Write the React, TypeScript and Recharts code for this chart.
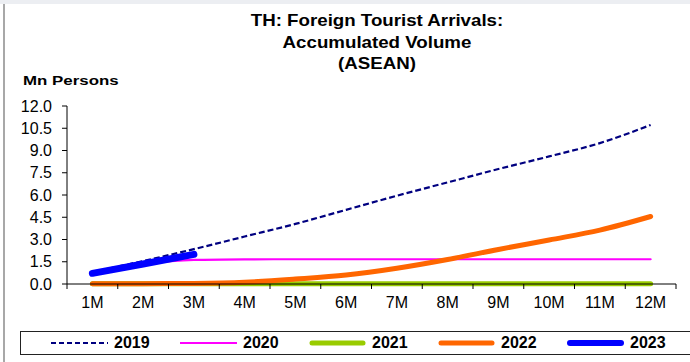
import { Legend, Line, LineChart, XAxis, YAxis } from 'recharts';

const months = ['1M', '2M', '3M', '4M', '5M', '6M', '7M', '8M', '9M', '10M', '11M', '12M'];
const y2019 = [0.8, 1.55, 2.35, 3.2, 4.05, 5.0, 5.95, 6.85, 7.75, 8.6, 9.5, 10.72];
const y2020 = [0.76, 1.33, 1.62, 1.66, 1.67, 1.67, 1.67, 1.67, 1.67, 1.67, 1.67, 1.67];
const y2021 = [0.01, 0.01, 0.01, 0.01, 0.01, 0.01, 0.01, 0.01, 0.01, 0.02, 0.02, 0.02];
const y2022 = [0.01, 0.02, 0.04, 0.12, 0.33, 0.6, 1.06, 1.65, 2.33, 2.97, 3.63, 4.55];
const y2023 = [0.72, 1.35, 2.0];
const yTicks = [0, 1.5, 3, 4.5, 6, 7.5, 9, 10.5, 12];

const seriesInfo = [
  { key: 'y2019', name: '2019', color: '#000080', width: 2.2, dash: '6 3' },
  { key: 'y2020', name: '2020', color: '#FF00FF', width: 2.2, dash: undefined },
  { key: 'y2021', name: '2021', color: '#99CC00', width: 5, dash: undefined },
  { key: 'y2022', name: '2022', color: '#FF6600', width: 5, dash: undefined },
  { key: 'y2023', name: '2023', color: '#0000FF', width: 7, dash: undefined },
];

const data = months.map((m, i) => ({
  x: i + 1,
  label: m,
  y2019: y2019[i],
  y2020: y2020[i],
  y2021: y2021[i],
  y2022: y2022[i],
  y2023: i < y2023.length ? y2023[i] : null,
}));

// boundary tick marks sit between the month labels
const xTicks: number[] = [];
for (let i = 0; i <= months.length * 2; i++) xTicks.push(0.5 + i * 0.5);

const FONT = '"Liberation Sans", Arial, sans-serif';

function MonthTick(props: any) {
  const { x, y, payload } = props;
  const v = payload.value as number;
  if (Number.isInteger(v)) {
    return (
      <text x={x} y={y + 18} dy="0.355em" textAnchor="middle" fontSize={16} fontFamily={FONT} fill="#000">
        {months[v - 1]}
      </text>
    );
  }
  return <line x1={x} x2={x} y1={y} y2={y + 5} stroke="#000" strokeWidth={1} />;
}

function LegendBox() {
  return (
    <div
      style={{
        boxSizing: 'border-box',
        width: '100%',
        height: '100%',
        border: '1px solid #222',
        display: 'flex',
        alignItems: 'center',
        paddingLeft: 30,
        fontFamily: FONT,
      }}
    >
      {seriesInfo.map((s) => (
        <div key={s.key} style={{ display: 'flex', alignItems: 'center', width: 129 }}>
          <svg width={57} height={10}>
            <line
              x1={s.width > 3 ? 3 : 0}
              x2={s.width > 3 ? 54 : 57}
              y1={5}
              y2={5}
              stroke={s.color}
              strokeWidth={s.dash ? 2 : Math.min(s.width, 6)}
              strokeDasharray={s.dash ? '5 3' : undefined}
              strokeLinecap={s.width > 3 ? 'round' : 'butt'}
            />
          </svg>
          <span style={{ marginLeft: 6, fontWeight: 'bold', fontSize: 16, color: '#000' }}>{s.name}</span>
        </div>
      ))}
    </div>
  );
}

export default function App() {
  return (
    <div style={{ position: 'absolute', left: 0, top: 0, width: 690, height: 362, background: '#fff', overflow: 'hidden' }}>
      <div style={{ position: 'absolute', left: 0, top: 0, width: 690, height: 4, background: '#eceef2' }} />
      <div style={{ position: 'absolute', left: 3, top: 4, width: 2, height: 358, background: '#a8a8a8' }} />
      <div
        style={{
          position: 'absolute',
          left: 177,
          top: 10,
          width: 400,
          textAlign: 'center',
          fontFamily: FONT,
          fontWeight: 'bold',
          fontSize: 17,
          lineHeight: '21.5px',
          transform: 'scaleX(1.1)',
          transformOrigin: 'center',
        }}
      >
        TH: Foreign Tourist Arrivals:
        <br />
        Accumulated Volume
        <br />
        (ASEAN)
      </div>
      <div
        style={{
          position: 'absolute',
          left: 23,
          top: 73,
          fontFamily: FONT,
          fontWeight: 'bold',
          fontSize: 13.5,
          whiteSpace: 'nowrap',
          transform: 'scaleX(1.25)',
          transformOrigin: 'left',
        }}
      >
        Mn Persons
      </div>
      <LineChart width={690} height={362} data={data} margin={{ top: 106, right: 14, bottom: 48, left: 0 }}>
        <XAxis
          dataKey="x"
          type="number"
          domain={[0.5, 12.5]}
          ticks={xTicks}
          interval={0}
          tick={<MonthTick />}
          tickLine={false}
          tickSize={0}
          tickMargin={0}
          height={30}
          axisLine={{ stroke: '#000', strokeWidth: 1 }}
        />
        <YAxis
          type="number"
          domain={[0, 12]}
          ticks={yTicks}
          interval={0}
          width={67}
          tickSize={5}
          tickMargin={10}
          tickFormatter={(v: number) => v.toFixed(1)}
          tick={{ fill: '#000', fontSize: 16, fontFamily: FONT }}
          tickLine={{ stroke: '#000' }}
          axisLine={{ stroke: '#000', strokeWidth: 1 }}
        />
        <Legend
          layout="horizontal"
          verticalAlign="middle"
          align="center"
          content={<LegendBox />}
          wrapperStyle={{ left: 20, top: 331, width: 680, height: 24 }}
        />
        {seriesInfo.map((s) => (
          <Line
            key={s.key}
            dataKey={s.key}
            name={s.name}
            type="monotone"
            stroke={s.color}
            strokeWidth={s.width}
            strokeDasharray={s.dash}
            strokeLinecap={s.dash ? 'butt' : 'round'}
            dot={false}
            activeDot={false}
            connectNulls={false}
            isAnimationActive={false}
          />
        ))}
      </LineChart>
    </div>
  );
}
